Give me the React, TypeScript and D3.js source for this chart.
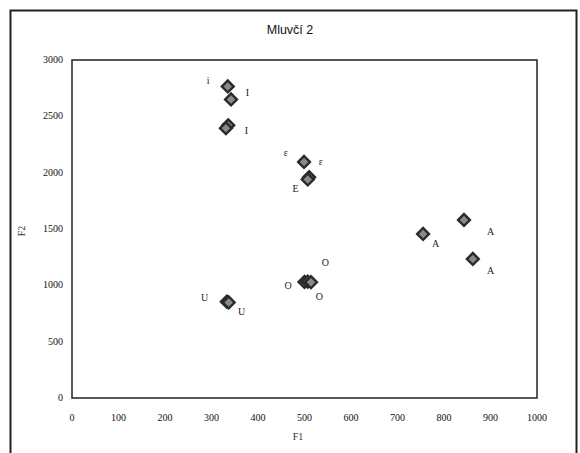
import React, { useEffect, useRef } from 'react';
import * as d3 from 'd3';

// Hodnoty F1/F2
const vowels = ['I', 'I', 'I', 'I', 'E', 'E', 'E', 'A', 'A', 'A', 'O', 'O', 'O', 'U', 'U'];
const f1Values = [335, 342, 336, 331, 499, 510, 507, 755, 843, 862, 500, 507, 514, 333, 337];
const f2Values = [2765, 2650, 2420, 2395, 2095, 1960, 1940, 1456, 1580, 1234, 1030, 1032, 1028, 855, 848];

// Popisky (písmena) v souřadnicích F1/F2
const labelTexts = ['i', 'I', 'I', 'ε', 'ε', 'E', 'A', 'A', 'A', 'O', 'O', 'O', 'U', 'U'];
const labelF1 = [293, 377, 375, 460, 535, 481, 782, 900, 900, 545, 465, 532, 285, 365];
const labelF2 = [2820, 2710, 2370, 2180, 2100, 1860, 1370, 1475, 1130, 1200, 1000, 900, 890, 770];

const xTicks = [0, 100, 200, 300, 400, 500, 600, 700, 800, 900, 1000];
const yTicks = [0, 500, 1000, 1500, 2000, 2500, 3000];

const App = () => {
  const ref = useRef<SVGSVGElement | null>(null);

  useEffect(() => {
    const svg = d3.select(ref.current);
    svg.selectAll('*').remove();

    const margin = { left: 72, top: 60, right: 537, bottom: 398 };
    const x = d3.scaleLinear().domain([0, 1000]).range([margin.left, margin.right]);
    const y = d3.scaleLinear().domain([0, 3000]).range([margin.bottom, margin.top]);
    const serif = '"Liberation Serif", "DejaVu Serif", serif';

    // vnější rámeček
    svg.append('rect')
      .attr('x', 10.5).attr('y', 10.5)
      .attr('width', 566).attr('height', 450)
      .attr('fill', '#fff').attr('stroke', '#222').attr('stroke-width', 2);

    // titulek
    svg.append('text')
      .attr('x', 290).attr('y', 34)
      .attr('text-anchor', 'middle')
      .style('font-family', '"Liberation Sans", Arial, sans-serif')
      .style('font-size', '12.5px')
      .attr('fill', '#111')
      .text('Mluvčí 2');

    // plocha grafu
    svg.append('rect')
      .attr('x', x(0)).attr('y', y(3000))
      .attr('width', x(1000) - x(0)).attr('height', y(0) - y(3000))
      .attr('fill', 'none').attr('stroke', '#222').attr('stroke-width', 1.5);

    // osy
    svg.append('g')
      .selectAll('text')
      .data(xTicks)
      .enter()
      .append('text')
      .attr('x', d => x(d))
      .attr('y', y(0) + 23)
      .attr('text-anchor', 'middle')
      .style('font-family', serif)
      .style('font-size', '10px')
      .attr('fill', '#111')
      .text(d => d);

    svg.append('g')
      .selectAll('text')
      .data(yTicks)
      .enter()
      .append('text')
      .attr('x', x(0) - 9)
      .attr('y', d => y(d) + 3)
      .attr('text-anchor', 'end')
      .style('font-family', serif)
      .style('font-size', '10px')
      .attr('fill', '#111')
      .text(d => d);

    svg.append('text')
      .attr('x', 298).attr('y', 440)
      .attr('text-anchor', 'middle')
      .style('font-family', serif)
      .style('font-size', '10px')
      .attr('fill', '#333')
      .text('F1');

    svg.append('text')
      .attr('transform', `translate(25,${(y(0) + y(3000)) / 2 + 2}) rotate(-90)`)
      .attr('text-anchor', 'middle')
      .style('font-family', serif)
      .style('font-size', '10px')
      .attr('fill', '#333')
      .text('F2');

    // body
    const points = vowels.map((v, i) => ({ v, f1: f1Values[i], f2: f2Values[i] }));
    const diamond = d3.symbol().type(d3.symbolSquare).size(70);
    svg.append('g')
      .selectAll('path')
      .data(points)
      .enter()
      .append('path')
      .attr('d', diamond)
      .attr('transform', d => `translate(${x(d.f1)},${y(d.f2)}) rotate(45)`)
      .attr('fill', '#8a8a8a')
      .attr('stroke', '#2a2a2a')
      .attr('stroke-width', 2.4);

    // popisky
    const labels = labelTexts.map((t, i) => ({ t, f1: labelF1[i], f2: labelF2[i] }));
    svg.append('g')
      .selectAll('text')
      .data(labels)
      .enter()
      .append('text')
      .attr('x', d => x(d.f1))
      .attr('y', d => y(d.f2))
      .attr('text-anchor', 'middle')
      .attr('dy', '0.35em')
      .style('font-family', serif)
      .style('font-size', '10px')
      .attr('fill', '#222')
      .text(d => d.t);
  }, []);

  return <svg ref={ref} width={580} height={453} style={{ display: 'block', margin: 0, position: 'absolute', left: 0, top: 0 }} />;
};

export default App;
